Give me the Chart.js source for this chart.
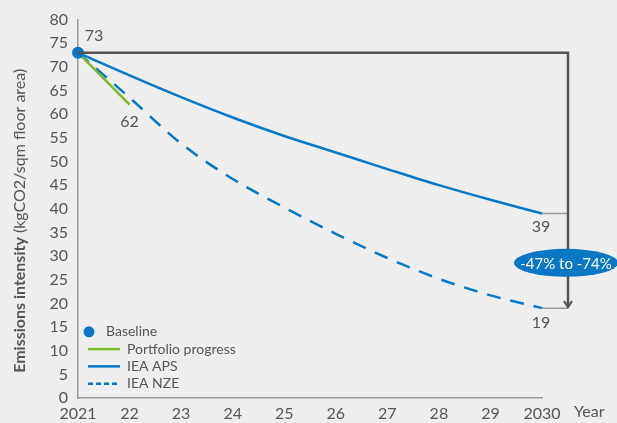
<!DOCTYPE html>
<html>
<head>
<meta charset="utf-8">
<script src="https://cdn.jsdelivr.net/npm/chart.js@4"></script>
<style>
  html, body { margin: 0; padding: 0; background: #eeeeee; }
  #wrap { width: 617px; height: 423px; }
</style>
</head>
<body>
<div id="wrap"><canvas id="emissions"></canvas></div>
<script>
// DATA
const years = ["2021", "22", "23", "24", "25", "26", "27", "28", "29", "2030"];
const baseline = [73, null, null, null, null, null, null, null, null, null];
const portfolio = [73, 62, null, null, null, null, null, null, null, null];
const ieaAps = [73, 68.2, 63.6, 59.3, 55.4, 51.9, 48.4, 45, 41.9, 39];
const ieaNze = [73, 63.5, 53.8, 46.3, 40.3, 34.7, 29.6, 25.2, 21.7, 19];
const rangeLabel = "-47% to -74%";

const BLUE = "#0a77c4";
const GREEN = "#7ab929";
const GREY = "#555555";
const FONT = "Lato, 'Open Sans', sans-serif";

Chart.defaults.font.family = FONT;
Chart.defaults.color = GREY;

// background + y title + annotations + legend
const extras = {
  id: "extras",
  beforeDraw(chart) {
    const c = chart.ctx;
    c.save();
    c.fillStyle = "#eeeeee";
    c.fillRect(0, 0, chart.width, chart.height);
    c.restore();
  },
  afterDatasetsDraw(chart) {
    const c = chart.ctx;
    const x = chart.scales.x;
    const y = chart.scales.y;
    const x0 = x.getPixelForValue(0);
    const xEnd = x.getPixelForValue(years.length - 1);
    const bx = xEnd + 26;
    const yTop = y.getPixelForValue(baseline[0]);
    const yAps = y.getPixelForValue(ieaAps[ieaAps.length - 1]);
    const yNze = y.getPixelForValue(ieaNze[ieaNze.length - 1]);

    c.save();
    // short ticks at the ends
    c.strokeStyle = "#999999";
    c.lineWidth = 1.5;
    c.beginPath();
    c.moveTo(xEnd, yAps); c.lineTo(bx, yAps);
    c.moveTo(xEnd, yNze); c.lineTo(bx, yNze);
    c.stroke();

    // bracket with arrow
    c.strokeStyle = GREY;
    c.lineWidth = 2.5;
    c.beginPath();
    c.moveTo(x0, yTop);
    c.lineTo(bx, yTop);
    c.lineTo(bx, yNze - 1);
    c.stroke();
    c.lineWidth = 2;
    c.beginPath();
    c.moveTo(bx - 4, yNze - 7);
    c.lineTo(bx, yNze - 1);
    c.lineTo(bx + 4, yNze - 7);
    c.stroke();

    // oval label
    const oy = (yAps + yNze) / 2 + 2;
    c.fillStyle = BLUE;
    c.beginPath();
    c.ellipse(bx - 2, oy, 52, 14, 0, 0, Math.PI * 2);
    c.fill();
    c.fillStyle = "#ffffff";
    c.font = "15px " + FONT;
    c.textAlign = "center";
    c.textBaseline = "middle";
    c.fillText(rangeLabel, bx - 2, oy + 1);

    // value labels
    c.fillStyle = GREY;
    c.font = "16px " + FONT;
    c.fillText(String(baseline[0]), x0 + 16, yTop - 17);
    c.fillText(String(portfolio[1]), x.getPixelForValue(1), y.getPixelForValue(portfolio[1]) + 17);
    c.fillText(String(ieaAps[9]), xEnd - 1, yAps + 13);
    c.fillText(String(ieaNze[9]), xEnd - 1, yNze + 15);

    // x axis "Year"
    c.textAlign = "left";
    c.fillText("Year", xEnd + 32, x.bottom - 11);

    // y title with bold part
    c.translate(20, (chart.chartArea.top + chart.chartArea.bottom) / 2 + 12);
    c.rotate(-Math.PI / 2);
    const bold = "Emissions intensity";
    const rest = " (kgCO2/sqm floor area)";
    c.font = "bold 16px " + FONT;
    const wb = c.measureText(bold).width;
    c.font = "16px " + FONT;
    const wr = c.measureText(rest).width;
    const sx = -(wb + wr) / 2;
    c.textAlign = "left";
    c.font = "bold 16px " + FONT;
    c.fillText(bold, sx, 0);
    c.font = "16px " + FONT;
    c.fillText(rest, sx + wb, 0);
    c.restore();

    // legend
    const lx = chart.chartArea.left + 11;
    const ly = y.getPixelForValue(14);
    const step = 17.3;
    c.save();
    c.font = "14px " + FONT;
    c.textBaseline = "middle";
    c.fillStyle = BLUE;
    c.beginPath();
    c.arc(lx, ly, 5.5, 0, Math.PI * 2);
    c.fill();
    c.fillStyle = GREY;
    c.fillText("Baseline", lx + 17, ly);
    const items = [
      ["Portfolio progress", GREEN, []],
      ["IEA APS", BLUE, []],
      ["IEA NZE", BLUE, [5, 3]],
    ];
    items.forEach((it, i) => {
      const yy = ly + step * (i + 1);
      c.strokeStyle = it[1];
      c.lineWidth = 2.5;
      c.setLineDash(it[2]);
      c.beginPath();
      c.moveTo(lx - 1, yy);
      c.lineTo(lx + 31, yy);
      c.stroke();
      c.setLineDash([]);
      c.fillStyle = GREY;
      c.fillText(it[0], lx + 38, yy);
    });
    c.restore();
  },
};

const ctx = document.getElementById("emissions").getContext("2d");
new Chart(ctx, {
  type: "line",
  data: {
    labels: years,
    datasets: [
      {
        label: "Baseline",
        data: baseline,
        showLine: false,
        pointRadius: 6,
        pointBackgroundColor: BLUE,
        pointBorderWidth: 0,
      },
      {
        label: "Portfolio progress",
        data: portfolio,
        borderColor: GREEN,
        borderWidth: 2.5,
        pointRadius: 0,
      },
      {
        label: "IEA APS",
        data: ieaAps,
        borderColor: BLUE,
        borderWidth: 2.5,
        pointRadius: 0,
        cubicInterpolationMode: "monotone",
      },
      {
        label: "IEA NZE",
        data: ieaNze,
        borderColor: BLUE,
        borderWidth: 2.5,
        borderDash: [14, 10],
        pointRadius: 0,
        cubicInterpolationMode: "monotone",
      },
    ],
  },
  options: {
    responsive: true,
    maintainAspectRatio: false,
    animation: false,
    layout: { padding: { top: 17, right: 75, left: 0, bottom: 0 } },
    plugins: {
      legend: { display: false },
      tooltip: { enabled: false },
    },
    scales: {
      x: {
        offset: false,
        grid: { display: false, drawTicks: false },
        border: { color: "#999999", width: 1.5 },
        ticks: { font: { size: 16 }, color: GREY, padding: 6, maxRotation: 0 },
        afterFit(s) { s.height = 25; },
      },
      y: {
        min: 0,
        max: 80,
        grid: { display: false, drawTicks: false },
        border: { color: "#999999", width: 1.5 },
        ticks: { stepSize: 5, font: { size: 16 }, color: GREY, padding: 10 },
        afterFit(s) { s.width = 78; },
      },
    },
  },
  plugins: [extras],
});
</script>
</body>
</html>
